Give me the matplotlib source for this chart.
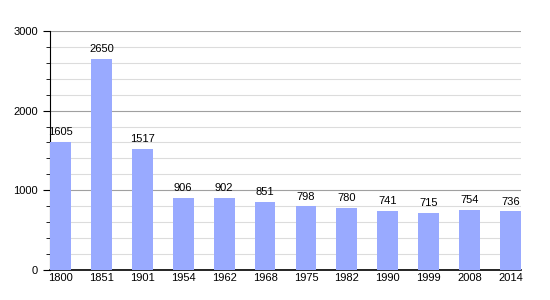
import matplotlib
matplotlib.use("Agg")
import matplotlib.pyplot as plt
from matplotlib.ticker import MultipleLocator

years = ["1800", "1851", "1901", "1954", "1962", "1968", "1975", "1982", "1990", "1999", "2008", "2014"]
population = [1605, 2650, 1517, 906, 902, 851, 798, 780, 741, 715, 754, 736]

plt.rcParams['font.family'] = ['Liberation Sans', 'DejaVu Sans']
fig = plt.figure(figsize=(5.5, 3.0), dpi=100)
ax = fig.add_axes([0.0909, 0.1, 0.8564, 0.797])

x = list(range(len(years)))
w = 0.51
ax.bar(x, population, width=w, color="#99aaff", zorder=3)
for xi, v in zip(x, population):
    ax.text(xi, v + 60, str(v), ha="center", va="bottom", fontsize=8, zorder=4)

ax.set_xlim(-w / 2, len(years) - 1 + w / 2)
ax.set_ylim(0, 3000)
ax.set_xticks(x)
ax.set_xticklabels(years, fontsize=8)
ax.yaxis.set_major_locator(MultipleLocator(1000))
ax.yaxis.set_minor_locator(MultipleLocator(200))
ax.tick_params(axis="y", which="major", labelsize=8, length=5, direction="out")
ax.tick_params(axis="y", which="minor", length=3, direction="out")
ax.tick_params(axis="x", length=0, pad=2)
ax.grid(axis="y", which="major", color="#a0a0a0", linewidth=0.8, zorder=1)
ax.grid(axis="y", which="minor", color="#dcdcdc", linewidth=0.8, zorder=0)
ax.set_axisbelow(True)
for s in ["top", "right"]:
    ax.spines[s].set_visible(False)
ax.spines["left"].set_color("black")
ax.spines["bottom"].set_color("black")
ax.spines["bottom"].set_linewidth(1.2)

fig.savefig("out.png", dpi=100)
